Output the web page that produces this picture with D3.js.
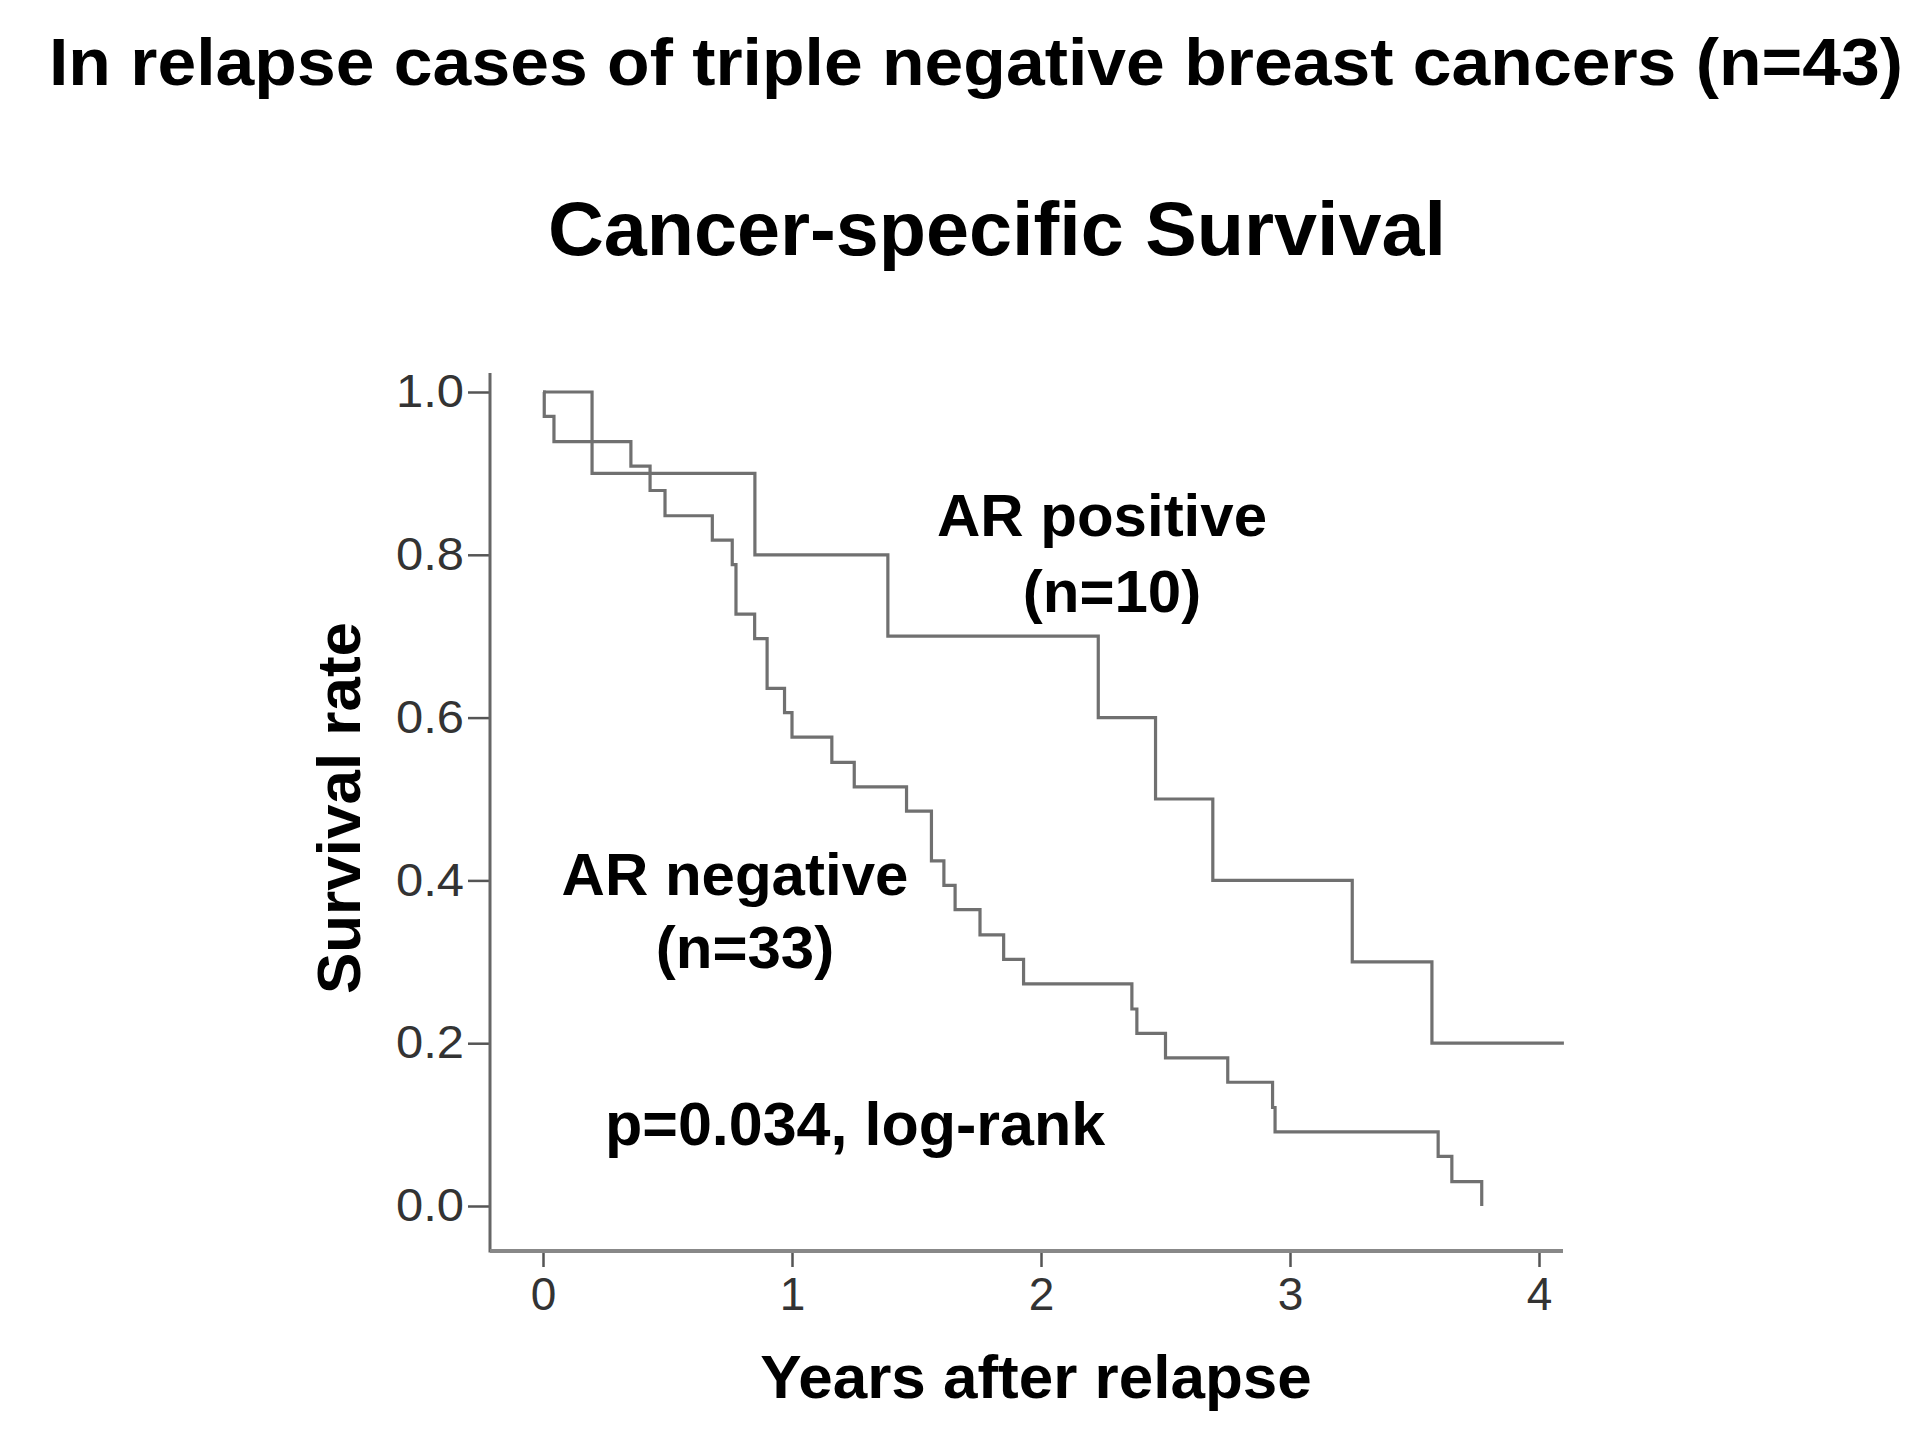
<!DOCTYPE html>
<html>
<head>
<meta charset="utf-8">
<script src="https://cdn.jsdelivr.net/npm/d3@7"></script>
<style>
  body { margin: 0; background: #fff; }
  text { font-family: "Liberation Sans", Arial, sans-serif; }
</style>
</head>
<body>
<div id="chart"></div>
<script>
// Kaplan-Meier steps (time in years, survival after the event)
const arPosTime = [0, 0.197, 0.851, 1.385, 2.23, 2.46, 2.69, 3.25, 3.57, 4.10];
const arPosSurv = [1.0, 0.9, 0.8, 0.7, 0.6, 0.5, 0.4, 0.3, 0.2, 0.2];

const arNegTime = [0, 0.005, 0.044, 0.353, 0.43, 0.49, 0.68, 0.76, 0.775, 0.85, 0.90, 0.97, 1.00, 1.16, 1.25,
                   1.46, 1.56, 1.61, 1.655, 1.755, 1.85, 1.93, 2.365, 2.385, 2.50, 2.75, 2.93, 2.94, 3.595, 3.65, 3.77];
const arNegSurv = [1.0, 0.970, 0.939, 0.909, 0.879, 0.848, 0.818, 0.788, 0.727, 0.697, 0.636, 0.606, 0.576, 0.545, 0.515,
                   0.485, 0.424, 0.394, 0.364, 0.333, 0.303, 0.273, 0.242, 0.212, 0.182, 0.152, 0.121, 0.091, 0.061, 0.030, 0.0];

const xTicks = [0, 1, 2, 3, 4];
const yTicks = [0, 0.2, 0.4, 0.6, 0.8, 1.0];

const W = 1931, H = 1441;
const svg = d3.select('#chart').append('svg')
  .attr('width', W).attr('height', H)
  .style('background', '#fff');

// plot frame
const axX0 = 490, axX1 = 1563, axY0 = 373, axY1 = 1251;
const x = d3.scaleLinear().domain([0, 4]).range([543, 1539]);
const y = d3.scaleLinear().domain([0, 1]).range([1206, 392]);

// titles
svg.append('text')
  .attr('x', 976).attr('y', 85)
  .attr('text-anchor', 'middle')
  .attr('font-size', 67).attr('font-weight', 'bold')
  .attr('textLength', 1854).attr('lengthAdjust', 'spacingAndGlyphs')
  .text('In relapse cases of triple negative breast cancers (n=43)');

svg.append('text')
  .attr('x', 997).attr('y', 255)
  .attr('text-anchor', 'middle')
  .attr('font-size', 76).attr('font-weight', 'bold')
  .attr('textLength', 898).attr('lengthAdjust', 'spacingAndGlyphs')
  .text('Cancer-specific Survival');

// axes
const yAxis = svg.append('g')
  .attr('transform', `translate(${axX0},0)`)
  .call(d3.axisLeft(y).tickValues(yTicks).tickFormat(d3.format('.1f')).tickSize(22).tickSizeOuter(0).tickPadding(4));
yAxis.select('.domain').remove();

const xAxis = svg.append('g')
  .attr('transform', `translate(0,${axY1})`)
  .call(d3.axisBottom(x).tickValues(xTicks).tickFormat(d3.format('d')).tickSize(16).tickSizeOuter(0).tickPadding(10));
xAxis.select('.domain').remove();

[yAxis, xAxis].forEach(a => {
  a.selectAll('.tick line').attr('stroke', '#555').attr('stroke-width', 2.5);
  a.selectAll('.tick text')
    .attr('fill', '#333').attr('font-size', 46)
    .attr('font-family', '"Liberation Sans", Arial, sans-serif');
});
yAxis.selectAll('.tick text').attr('textLength', 68).attr('lengthAdjust', 'spacingAndGlyphs');

svg.append('line')
  .attr('x1', axX0).attr('x2', axX0).attr('y1', axY0).attr('y2', axY1 + 1.5)
  .attr('stroke', '#666').attr('stroke-width', 3);
svg.append('line')
  .attr('x1', axX0).attr('x2', axX1).attr('y1', axY1).attr('y2', axY1)
  .attr('stroke', '#888').attr('stroke-width', 4);

// axis titles
svg.append('text')
  .attr('transform', 'translate(360,808) rotate(-90)')
  .attr('text-anchor', 'middle')
  .attr('font-size', 62).attr('font-weight', 'bold')
  .text('Survival rate');

svg.append('text')
  .attr('x', 1036).attr('y', 1398)
  .attr('text-anchor', 'middle')
  .attr('font-size', 62).attr('font-weight', 'bold')
  .text('Years after relapse');

// survival curves
const line = d3.line()
  .x(d => x(d[0])).y(d => y(d[1]))
  .curve(d3.curveStepAfter);

const curves = [
  d3.zip(arPosTime, arPosSurv),
  d3.zip(arNegTime, arNegSurv)
];

svg.append('g').selectAll('path').data(curves).join('path')
  .attr('d', line)
  .attr('fill', 'none')
  .attr('stroke', '#707070')
  .attr('stroke-width', 3.2);

// annotations
const notes = [
  { t: 'AR positive', x: 1102, y: 536, anchor: 'middle' },
  { t: '(n=10)', x: 1112, y: 612, anchor: 'middle' },
  { t: 'AR negative', x: 735, y: 895, anchor: 'middle' },
  { t: '(n=33)', x: 745, y: 968, anchor: 'middle' },
  { t: 'p=0.034, log-rank', x: 605, y: 1145, anchor: 'start' }
];
svg.append('g').selectAll('text').data(notes).join('text')
  .attr('x', d => d.x).attr('y', d => d.y)
  .attr('text-anchor', d => d.anchor)
  .attr('font-size', d => d.anchor === 'start' ? 61 : 60).attr('font-weight', 'bold')
  .attr('fill', '#000')
  .text(d => d.t);
</script>
</body>
</html>
